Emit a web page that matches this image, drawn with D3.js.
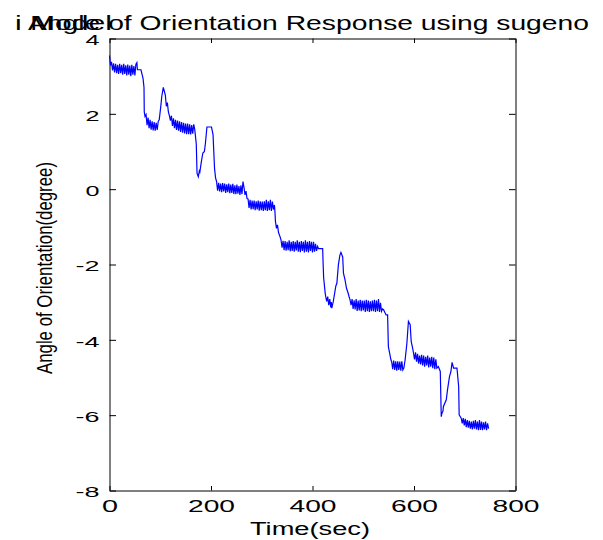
<!DOCTYPE html>
<html>
<head>
<meta charset="utf-8">
<script src="https://cdn.jsdelivr.net/npm/d3@7"></script>
<style>
  body { margin: 0; background: #fff; }
  text { font-family: "Liberation Sans", Arial, sans-serif; fill: #000; }
</style>
</head>
<body>
<div id="chart"></div>
<script>
var titleMain = 'Angle of Orientation Response using sugeno';
var titleOver = 'i Model';
var xLabel = 'Time(sec)';
var yLabel = 'Angle of Orientation(degree)';
var xTicks = [0, 200, 400, 600, 800];
var yTicks = [-8, -6, -4, -2, 0, 2, 4];

// ------------------------------------------------------------ Series
var timeSec = [
  0, 2, 4, 6, 8, 10, 12, 14, 16, 18,
  20, 22, 24, 26, 28, 30, 32, 34, 36, 38,
  40, 42, 44, 46, 48, 50, 52, 54, 55, 62,
  66, 68, 68.5, 70, 72, 74, 76, 78, 80, 82,
  84, 86, 88, 90, 92, 94, 96, 98, 101, 103,
  106, 108, 110, 112, 114, 116, 118, 120, 122, 124,
  126, 128, 130, 132, 134, 136, 138, 140, 142, 144,
  146, 148, 150, 152, 154, 156, 158, 160, 162, 164,
  166, 168, 171, 172.5, 175, 177, 178, 181, 184, 187,
  189, 192, 201, 204, 207, 209, 211, 213, 215, 217,
  219, 221, 223, 225, 227, 229, 231, 233, 235, 237,
  239, 241, 243, 245, 247, 249, 251, 253, 255, 257,
  259, 261, 263, 265, 267, 269, 271, 273, 275, 277,
  279, 281, 283, 285, 287, 289, 291, 293, 295, 297,
  299, 301, 303, 305, 307, 309, 311, 313, 315, 317,
  319, 321, 323, 325, 326, 327, 329, 331, 333, 336,
  338, 340, 342, 344, 346, 348, 350, 352, 354, 356,
  358, 360, 362, 364, 366, 368, 370, 372, 374, 376,
  378, 380, 382, 384, 386, 388, 390, 392, 394, 396,
  398, 400, 402, 404, 406, 408, 410, 412, 420, 421,
  422, 425, 426, 428, 430, 432, 434, 436, 437, 438,
  441, 446, 448, 451, 454, 456, 458, 459.5, 461, 464,
  467, 470, 472, 474, 476, 478, 480, 482, 484, 486,
  488, 490, 492, 494, 496, 498, 500, 502, 504, 506,
  508, 510, 512, 514, 516, 518, 520, 522, 524, 526,
  528, 530, 532, 534, 536, 538, 540, 545, 548, 549.5,
  552, 554.5, 556, 558, 560, 562, 564, 566, 568, 570,
  572, 574, 576, 578, 580, 582.5, 586, 589, 590.5, 592.5,
  594.5, 597, 599, 601, 603, 605, 607, 609, 611, 613,
  615, 617, 619, 621, 623, 625, 627, 629, 631, 633,
  635, 637, 639, 641, 643, 645, 648, 651.8, 653.7, 655,
  657, 658, 663.6, 666, 670, 672.8, 675, 678, 684.7, 688,
  689, 693, 695, 697, 699, 701, 703, 705, 707, 709,
  711, 713, 715, 717, 719, 721, 723, 725, 727, 729,
  731, 733, 735, 737, 739, 741, 743, 745, 747
];

var angleDeg = [
  3.55, 3.28, 3.38, 3.15, 3.34, 3.1, 3.33, 3.08, 3.3, 3.06,
  3.33, 3.08, 3.3, 3.04, 3.33, 3.06, 3.29, 3.02, 3.31, 3.04,
  3.28, 3.0, 3.3, 3.04, 3.27, 3.02, 3.32, 3.36, 3.17, 3.17,
  2.95, 2.7, 2.05, 1.93, 1.98, 1.7, 1.9, 1.62, 1.84, 1.58,
  1.8, 1.56, 1.78, 1.55, 1.76, 1.57, 1.8, 1.84, 2.19, 2.46,
  2.7, 2.6, 2.5, 2.2, 2.3, 2.05, 1.95, 1.82, 1.95, 1.68,
  1.88, 1.62, 1.84, 1.57, 1.82, 1.55, 1.8, 1.52, 1.78, 1.5,
  1.76, 1.48, 1.74, 1.46, 1.74, 1.46, 1.72, 1.45, 1.7, 1.47,
  1.72, 1.58, 1.2, 0.42, 0.33, 0.48, 0.45, 0.73, 0.96, 1.0,
  1.22, 1.65, 1.65, 1.45, 0.55, 0.3, 0.2, -0.04, 0.17, -0.06,
  0.15, -0.08, 0.16, -0.06, 0.15, -0.1, 0.13, -0.08, 0.15, -0.11,
  0.12, -0.1, 0.14, -0.13, 0.1, -0.13, 0.12, -0.12, 0.08, -0.15,
  0.1, -0.13, 0.2, 0.05, -0.15, -0.05, -0.25, -0.26, -0.5, -0.28,
  -0.54, -0.3, -0.53, -0.3, -0.56, -0.32, -0.54, -0.3, -0.57, -0.32,
  -0.56, -0.33, -0.58, -0.32, -0.56, -0.28, -0.58, -0.32, -0.56, -0.28,
  -0.58, -0.33, -0.54, -0.42, -0.6, -0.86, -1.04, -0.95, -1.15, -1.26,
  -1.35, -1.55, -1.37, -1.62, -1.38, -1.63, -1.4, -1.62, -1.36, -1.65,
  -1.4, -1.64, -1.38, -1.66, -1.4, -1.63, -1.36, -1.66, -1.4, -1.67,
  -1.38, -1.64, -1.4, -1.68, -1.36, -1.66, -1.4, -1.68, -1.38, -1.64,
  -1.4, -1.68, -1.4, -1.66, -1.45, -1.64, -1.52, -1.58, -1.58, -2.0,
  -2.36, -2.76, -2.85, -2.98, -2.85, -3.08, -2.92, -3.14, -3.0, -3.16,
  -2.98, -2.57, -2.5, -2.01, -1.75, -1.68, -1.75, -1.8, -2.23, -2.4,
  -2.63, -2.75, -2.85, -2.94, -3.08, -2.92, -3.18, -2.95, -3.19, -2.92,
  -3.23, -2.96, -3.22, -2.94, -3.24, -2.96, -3.22, -2.96, -3.26, -2.94,
  -3.24, -2.96, -3.26, -2.98, -3.24, -2.96, -3.24, -2.94, -3.26, -2.96,
  -3.24, -2.92, -3.26, -3.02, -3.24, -3.18, -3.2, -3.34, -3.34, -4.18,
  -4.35, -4.53, -4.58, -4.78, -4.55, -4.8, -4.57, -4.82, -4.57, -4.8,
  -4.58, -4.82, -4.57, -4.8, -4.75, -4.53, -4.09, -3.51, -3.55, -3.6,
  -4.05, -4.2, -4.35, -4.52, -4.33, -4.58, -4.37, -4.63, -4.42, -4.65,
  -4.4, -4.68, -4.42, -4.71, -4.45, -4.68, -4.42, -4.73, -4.47, -4.71,
  -4.45, -4.75, -4.47, -4.78, -4.52, -4.75, -4.71, -4.84, -6.04, -5.95,
  -5.9, -5.77, -5.59, -5.33, -4.97, -4.84, -4.6, -4.75, -4.75, -5.24,
  -5.99, -6.08, -6.22, -6.08, -6.27, -6.1, -6.32, -6.13, -6.33, -6.15,
  -6.36, -6.17, -6.38, -6.15, -6.36, -6.13, -6.38, -6.17, -6.4, -6.13,
  -6.39, -6.17, -6.4, -6.19, -6.38, -6.17, -6.4, -6.22, -6.36
];
// ----------------------------------------------------------- /Series

var margin = {top: 38.5, right: 87.5, bottom: 49.5, left: 109.5},
    width = 603 - margin.left - margin.right,
    height = 540 - margin.top - margin.bottom;

var x = d3.scaleLinear().domain([0, 800]).range([0, width]);
var y = d3.scaleLinear().domain([-8, 4]).range([height, 0]);

var root = d3.select('#chart').append('svg')
    .attr('width', 603)
    .attr('height', 540);

var svg = root.append('g')
    .attr('transform', 'translate(' + margin.left + ',' + margin.top + ')');

var fmt = function(d) { return String(d); };

// ticks point inwards, like the original figure
var xAxis = d3.axisBottom(x).tickValues(xTicks).tickFormat(fmt)
    .tickSizeInner(-4.5).tickSizeOuter(0);
var xAxisTop = d3.axisTop(x).tickValues(xTicks).tickFormat('')
    .tickSizeInner(-4.5).tickSizeOuter(0);
var yAxis = d3.axisLeft(y).tickValues(yTicks).tickFormat(fmt)
    .tickSizeInner(-6.5).tickSizeOuter(0);
var yAxisRight = d3.axisRight(y).tickValues(yTicks).tickFormat('')
    .tickSizeInner(-6.5).tickSizeOuter(0);

var gx = svg.append('g')
    .attr('transform', 'translate(0,' + height + ')')
    .call(xAxis);
gx.selectAll('text')
    .attr('y', 21.5)
    .attr('dy', 0)
    .style('font-size', '16px')
    .attr('textLength', function(d) { return String(d).length > 1 ? 47 : 16; })
    .attr('lengthAdjust', 'spacingAndGlyphs');

svg.append('g').call(xAxisTop);

var gy = svg.append('g').call(yAxis);
gy.selectAll('text')
    .attr('x', -10)
    .attr('dy', 6.3)
    .style('font-size', '15px')
    .attr('textLength', function(d) { return d < 0 ? 24 : 14; })
    .attr('lengthAdjust', 'spacingAndGlyphs');

svg.append('g')
    .attr('transform', 'translate(' + width + ',0)')
    .call(yAxisRight);

svg.selectAll('.domain, .tick line')
    .attr('stroke', '#000')
    .attr('stroke-width', 1);
svg.selectAll('.tick text').attr('fill', '#000').attr('font-family', null);

// ------------------------------------------------------------ Response line
var points = timeSec.map(function(t, i) { return [t, angleDeg[i]]; });

var line = d3.line()
    .x(function(d) { return x(d[0]); })
    .y(function(d) { return y(d[1]); });

svg.append('path')
    .datum(points)
    .attr('fill', 'none')
    .attr('stroke', '#0000ff')
    .attr('stroke-width', 1.2)
    .attr('d', line);

// ------------------------------------------------------------ Labels
root.append('text')
    .attr('x', 28)
    .attr('y', 30)
    .style('font-size', '21px')
    .attr('textLength', 561)
    .attr('lengthAdjust', 'spacingAndGlyphs')
    .text(titleMain);

root.append('text')
    .attr('x', 15)
    .attr('y', 30)
    .style('font-size', '21px')
    .attr('textLength', 97)
    .attr('lengthAdjust', 'spacingAndGlyphs')
    .text(titleOver);

root.append('text')
    .attr('x', 250)
    .attr('y', 535)
    .style('font-size', '18px')
    .attr('textLength', 120)
    .attr('lengthAdjust', 'spacingAndGlyphs')
    .text(xLabel);

root.append('text')
    .attr('transform', 'translate(52,268) rotate(-90)')
    .attr('text-anchor', 'middle')
    .style('font-size', '22px')
    .attr('textLength', 212)
    .attr('lengthAdjust', 'spacingAndGlyphs')
    .text(yLabel);
</script>
</body>
</html>
